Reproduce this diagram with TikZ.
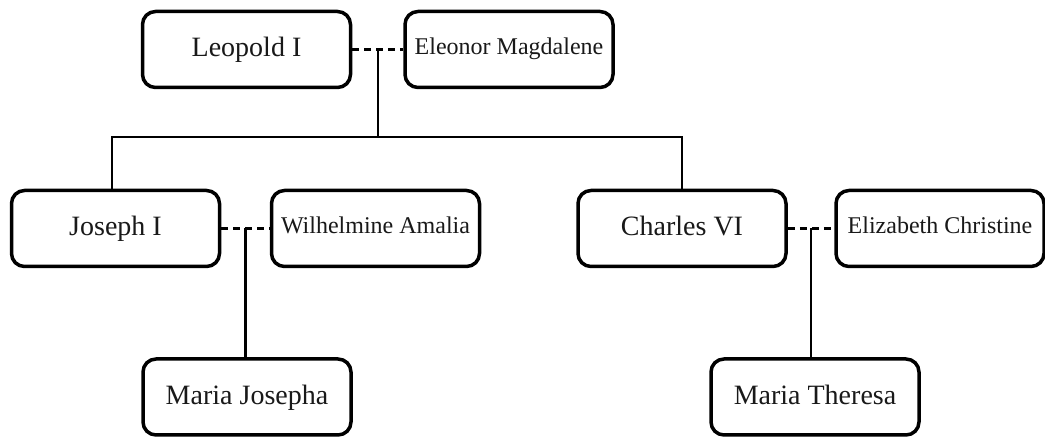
\documentclass[tikz,border=0pt]{standalone}
\usepackage{fontspec}
\setmainfont{Liberation Serif}
\begin{document}
\begin{tikzpicture}[x=1pt,y=-1pt,
  person/.style={draw=black, line width=3.5pt, rounded corners=13pt, fill=white,
    minimum width=208pt, minimum height=76pt, inner sep=0pt, align=center,
    text height=15pt, text depth=0pt,
    font=\fontsize{28}{32}\selectfont, text=black!90},
  spouse/.style={person, text height=11pt, font=\fontsize{24}{28}\selectfont},
  marriage/.style={line width=2.5pt, dash pattern=on 7pt off 5pt},
  descent/.style={line width=2.5pt}]
\useasboundingbox (0,0) rectangle (1045,438);
\node[person] (leo) at (246.5,49.5) {Leopold I};
\node[spouse] (ele) at (509,49.5) {Eleonor Magdalene};
\node[person] (jos) at (115.5,228.5) {Joseph I};
\node[spouse] (wil) at (375.5,228.5) {Wilhelmine Amalia};
\node[person] (cha) at (682,228.5) {Charles VI};
\node[spouse] (eli) at (940,228.5) {Elizabeth Christine};
\node[person] (mjo) at (247,397) {Maria Josepha};
\node[person] (mth) at (815,397) {Maria Theresa};
\draw[marriage] (leo.east) -- (ele.west) coordinate[midway] (m1);
\draw[marriage] (jos.east) -- (wil.west) coordinate[midway] (m2);
\draw[marriage] (cha.east) -- (eli.west) coordinate[midway] (m3);
\coordinate (bus) at (m1 |- 0,137);
\draw[descent] (m1) -- (bus);
\draw[descent] ([xshift=-3.5pt]jos.north) |- (bus) -| (cha.north);
\draw[descent] (m2) -- (m2 |- mjo.north);
\draw[descent] (m3) -- (m3 |- mth.north);
\end{tikzpicture}
\end{document}
